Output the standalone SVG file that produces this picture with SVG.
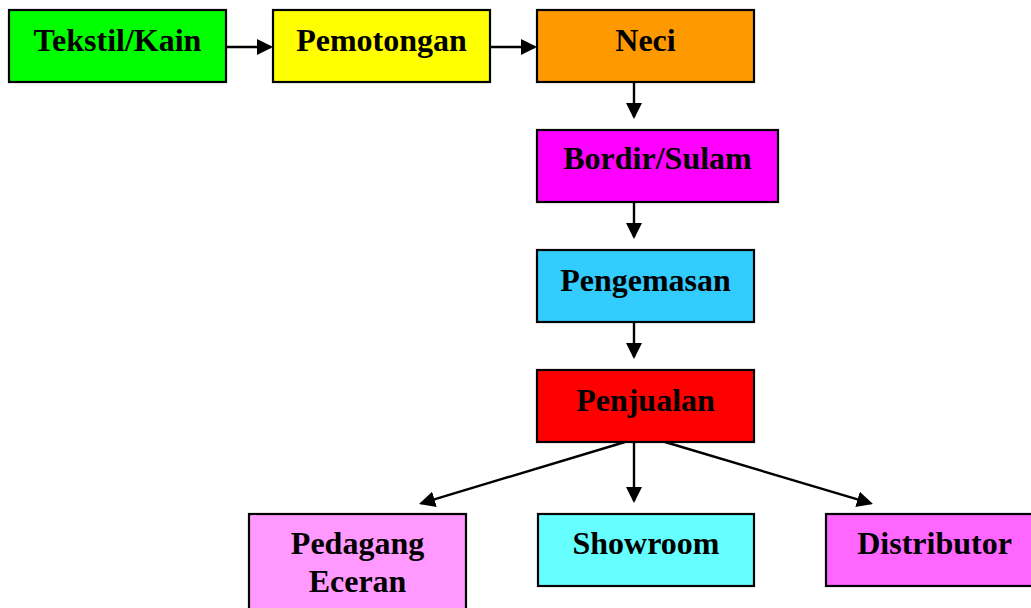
<svg xmlns="http://www.w3.org/2000/svg" width="1031" height="608" viewBox="0 0 1031 608">
  <style>
    .box { stroke: #000; stroke-width: 2.2; }
    .lbl { font-family: "Liberation Serif", "Times New Roman", serif; font-weight: bold; font-size: 32px; fill: #000; text-anchor: middle; }
    .conn { stroke: #000; stroke-width: 2.4; fill: none; marker-end: url(#arrow); }
  </style>
  <defs>
    <marker id="arrow" viewBox="0 0 16 16" refX="14" refY="8" markerWidth="16" markerHeight="16" markerUnits="userSpaceOnUse" orient="auto">
      <path d="M0,0 L16,8 L0,16 Z" fill="#000"/>
    </marker>
  </defs>
  <rect width="1031" height="608" fill="#fff"/>

  <!-- process flow -->
  <g id="connectors">
    <line class="conn" x1="226" y1="47" x2="271" y2="47"/>
    <line class="conn" x1="490" y1="47" x2="535" y2="47"/>
    <line class="conn" x1="634" y1="82" x2="634" y2="117"/>
    <line class="conn" x1="634" y1="202" x2="634" y2="237"/>
    <line class="conn" x1="634" y1="322" x2="634" y2="357"/>
    <line class="conn" x1="634" y1="442" x2="634" y2="501"/>
    <line class="conn" x1="625" y1="442" x2="421" y2="503.4"/>
    <line class="conn" x1="665" y1="442" x2="871" y2="503.4"/>
  </g>

  <g id="tekstil">
    <rect class="box" x="9" y="10" width="217" height="72" fill="#00FF00"/>
    <text class="lbl" x="117.5" y="51">Tekstil/Kain</text>
  </g>
  <g id="pemotongan">
    <rect class="box" x="273" y="10" width="217" height="72" fill="#FFFF00"/>
    <text class="lbl" x="381.5" y="51">Pemotongan</text>
  </g>
  <g id="neci">
    <rect class="box" x="537" y="10" width="217" height="72" fill="#FF9900"/>
    <text class="lbl" x="645.5" y="51">Neci</text>
  </g>
  <g id="bordir">
    <rect class="box" x="537" y="130" width="241" height="72" fill="#FF00FF"/>
    <text class="lbl" x="657.5" y="169">Bordir/Sulam</text>
  </g>
  <g id="pengemasan">
    <rect class="box" x="537" y="250" width="217" height="72" fill="#33CCFF"/>
    <text class="lbl" x="645.5" y="290.5">Pengemasan</text>
  </g>
  <g id="penjualan">
    <rect class="box" x="537" y="370" width="217" height="72" fill="#FF0000"/>
    <text class="lbl" x="645.5" y="410.5">Penjualan</text>
  </g>
  <g id="pedagang-eceran">
    <rect class="box" x="249" y="514" width="217" height="108" fill="#FF99FF"/>
    <text class="lbl" x="357.5" y="554">Pedagang</text>
    <text class="lbl" x="357.5" y="591.5">Eceran</text>
  </g>
  <g id="showroom">
    <rect class="box" x="538" y="514" width="216" height="72" fill="#66FFFF"/>
    <text class="lbl" x="646" y="554">Showroom</text>
  </g>
  <g id="distributor">
    <rect class="box" x="826" y="514" width="217" height="72" fill="#FF66FF"/>
    <text class="lbl" x="934.5" y="554">Distributor</text>
  </g>
</svg>
